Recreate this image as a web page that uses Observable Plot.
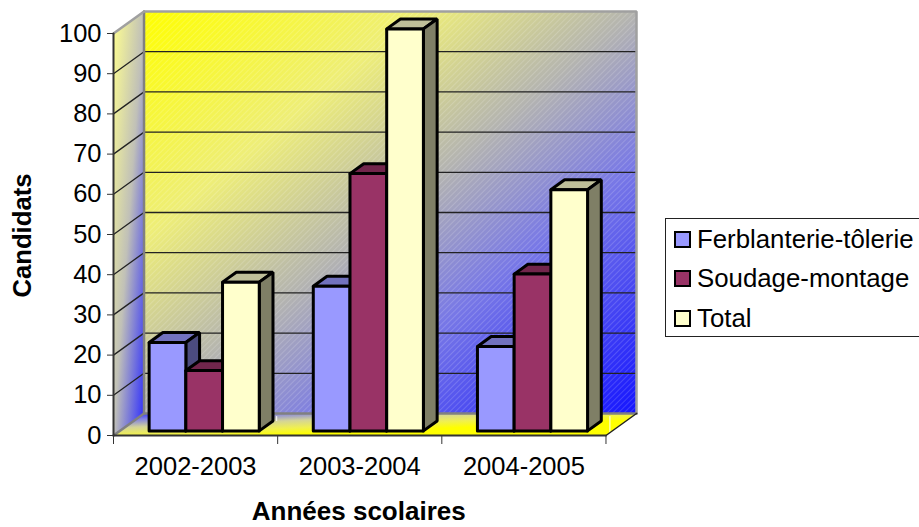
<!DOCTYPE html>
<html><head><meta charset="utf-8">
<script src="https://cdn.jsdelivr.net/npm/d3@7"></script>
<script src="https://cdn.jsdelivr.net/npm/@observablehq/plot@0.6"></script>
<style>
html,body{margin:0;padding:0;background:#fff;overflow:hidden;width:919px;height:527px}
#wrap{position:relative;width:919px;height:527px;font-family:"Liberation Sans",Arial,sans-serif}
#legend{position:absolute;left:665px;top:218px;width:270px;height:117px;border:1px solid #222;background:#fff;box-sizing:content-box}
.row{position:absolute;left:8px;height:24px;display:flex;align-items:center;font-size:25.8px;color:#000;white-space:nowrap}
.sw{width:13px;height:13px;border:2.5px solid #000;margin-right:6px;flex:none}
</style></head>
<body><div id="wrap"><div id="chart"></div><div id="legend"></div></div>
<script>
const years = ["2002-2003","2003-2004","2004-2005"];
const seriesNames = ["Ferblanterie-tôlerie","Soudage-montage","Total"];
const ferblanterie = [22,36,21];
const soudage = [15,64,39];
const total = [37,100,60];
const yTicks = [0,10,20,30,40,50,60,70,80,90,100];
const frontColors = ["#9999ff","#993366","#ffffcc"];
const topColors = ["#7272bf","#72264c","#bfbf99"];
const sideColors = ["#4c4c7f","#4c1933","#7f7f66"];

const values = [ferblanterie,soudage,total];
const DX = 30.5/164, DY = 22/4.02;         // full depth of the box, in data units
const P = (x,y,d)=>({x:x+d*DX,y:y+d*DY});
const poly = (pts,id,color)=>pts.map(p=>({...p,id,color}));

const barW = 0.2236, gap = 0.178, d0 = 0.21, d1 = 0.66;
const faces = [];
years.forEach((yr,i)=>{
  values.forEach((vals,j)=>{
    const v = vals[i], a = i+gap+j*barW, b = a+barW, k=`${i}-${j}`;
    faces.push(...poly([P(a,v,d0),P(b,v,d0),P(b,v,d1),P(a,v,d1),P(a,v,d0)],"t"+k,topColors[j]));
    faces.push(...poly([P(b,0,d0),P(b,0,d1),P(b,v,d1),P(b,v,d0),P(b,0,d0)],"s"+k,sideColors[j]));
    faces.push(...poly([P(a,0,d0),P(b,0,d0),P(b,v,d0),P(a,v,d0),P(a,0,d0)],"f"+k,frontColors[j]));
  });
});

const n = years.length;
const wallPts = [P(0,0,1),P(n,0,1),P(n,100,1),P(0,100,1),P(0,0,1)];
const sidePts = [P(0,0,0),P(0,0,1),P(0,100,1),P(0,100,0),P(0,0,0)];
const floorPts = [P(0,0,0),P(n,0,0),P(n,0,1),P(0,0,1),P(0,0,0)];
const gridVals = yTicks.slice(1,-1);
const gridBack = gridVals.flatMap(v=>[{...P(0,v,1),v},{...P(n,v,1),v}]);
const gridSide = gridVals.flatMap(v=>[{...P(0,v,0),v},{...P(0,v,1),v}]);

const defs = () => {
  const g = d3.create("svg:g");
  g.html(`<defs>
  <linearGradient id="wallG" x1="0" y1="0" x2="1" y2="1">
    <stop offset="0" stop-color="#ffff00"/><stop offset=".28" stop-color="#eeee78"/><stop offset=".5" stop-color="#b4b4b0"/><stop offset=".69" stop-color="#7878e6"/><stop offset="1" stop-color="#1414ff"/>
  </linearGradient>
  <linearGradient id="sideG" x1="0" y1="0" x2="1" y2="1">
    <stop offset="0" stop-color="#ffff90"/><stop offset=".5" stop-color="#c0c0b8"/><stop offset="1" stop-color="#2a2aff"/>
  </linearGradient>
  <linearGradient id="floorG" x1="0" y1="0" x2="1" y2="1">
    <stop offset="0" stop-color="#2a2aff"/><stop offset=".15" stop-color="#8080e4"/><stop offset=".33" stop-color="#d4d498"/><stop offset=".5" stop-color="#f0f050"/><stop offset=".65" stop-color="#ffff00"/><stop offset="1" stop-color="#ffff00"/>
  </linearGradient>
  <pattern id="hatch" width="4" height="4" patternUnits="userSpaceOnUse" patternTransform="rotate(45)">
    <line x1="0" y1="0" x2="0" y2="4" stroke="#fff" stroke-opacity=".16" stroke-width="2"/>
  </pattern></defs>`);
  return g.node();
};

const chart = Plot.plot({
  width:919,height:527,
  marginLeft:113,marginRight:283,marginTop:11,marginBottom:92,
  style:{background:"transparent",fontFamily:"'Liberation Sans',Arial,sans-serif",overflow:"visible"},
  x:{domain:[0,n+DX]},
  y:{domain:[0,100+DY]},
  color:{type:"identity"},
  marks:[
    defs,
    Plot.line(wallPts,{x:"x",y:"y",fill:"url(#wallG)",stroke:"none"}),
    Plot.line(wallPts,{x:"x",y:"y",fill:"url(#hatch)",stroke:"none"}),
    Plot.line(sidePts,{x:"x",y:"y",fill:"url(#sideG)",stroke:"none"}),
    Plot.line(floorPts,{x:"x",y:"y",fill:"url(#floorG)",stroke:"none"}),
    Plot.line(gridBack,{x:"x",y:"y",z:"v",stroke:"#222",strokeWidth:1.3}),
    Plot.line(gridSide,{x:"x",y:"y",z:"v",stroke:"#222",strokeWidth:1.3}),
    Plot.line([P(0,0,1),P(0,100,1)],{x:"x",y:"y",stroke:"#808080",strokeWidth:2.5}),
    Plot.line([P(0,100,0),P(0,100,1),P(n,100,1),P(n,0,1)],{x:"x",y:"y",stroke:"#a0a0a0",strokeWidth:2.5,strokeLinejoin:"miter"}),
    Plot.line([P(0,0,1),P(n,0,1)],{x:"x",y:"y",stroke:"#808080",strokeWidth:2.5}),
    Plot.line([P(0,0,0),P(0,0,1)],{x:"x",y:"y",stroke:"#808080",strokeWidth:2.5}),
    Plot.ruleX([0.994],{y1:3.5,y2:4.7,stroke:"#fff",strokeWidth:1}),
    Plot.ruleX([3.024],{y1:0.7,y2:4.7,stroke:"#fff",strokeWidth:1}),
    Plot.line([P(n,0,0),P(n,0,1)],{x:"x",y:"y",stroke:"#222",strokeWidth:1.5}),
    Plot.line([P(0,0,0),P(n,0,0)],{x:"x",y:"y",stroke:"#333",strokeWidth:2}),
    Plot.line([P(0,0,0),P(0,100,0)],{x:"x",y:"y",stroke:"#333",strokeWidth:2}),
    Plot.axisY({ticks:yTicks,tickSize:6,tickPadding:6,fontSize:25.5,label:null,stroke:"#333",color:"#000",textStroke:"none"}),
    Plot.axisX({ticks:[0,1,2,3],tickSize:9,tickFormat:()=>"",label:null,stroke:"#333"}),
    Plot.axisX({ticks:years.map((_,i)=>i+.5),tickSize:0,tickPadding:21,tickFormat:t=>years[t-.5],fontSize:25.5,label:null,color:"#000"}),
    Plot.line(faces,{x:"x",y:"y",z:"id",fill:"color",stroke:"#000",strokeWidth:3,strokeLinejoin:"miter"}),
    Plot.text(["Années scolaires"],{x:n/2,y:0,dx:-1,dy:76,fontSize:26,fontWeight:"bold",fill:"#000"}),
    Plot.text(["Candidats"],{x:0,y:50,dx:-91,dy:1,rotate:-90,fontSize:25.7,fontWeight:"bold",fill:"#000"})
  ]
});
document.getElementById("chart").appendChild(chart);

const legend = document.getElementById("legend");
seriesNames.forEach((s,i)=>{
  const r = document.createElement("div"); r.className="row"; r.style.top=(8+i*39.5)+"px";
  const sw = document.createElement("span"); sw.className="sw"; sw.style.background=frontColors[i];
  const t = document.createElement("span"); t.textContent=s;
  r.append(sw,t); legend.append(r);
});
</script></body></html>
